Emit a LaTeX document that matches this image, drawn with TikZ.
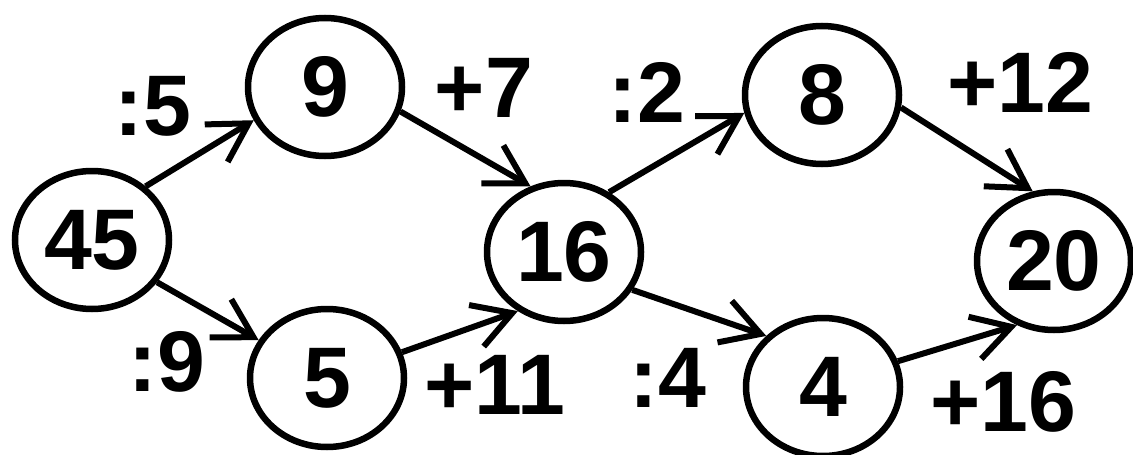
\documentclass[tikz,border=0pt]{standalone}
\usepackage{fontspec}
\setmainfont{Liberation Sans}
\usetikzlibrary{shapes.geometric,arrows.meta}
\begin{document}
\begin{tikzpicture}[x=1pt,y=-1pt,
  num/.style={ellipse,draw,line width=6.5pt,minimum width=154pt,minimum height=138pt,inner sep=0pt,
    font=\fontsize{86}{90}\selectfont\bfseries},
  lab/.style={inner sep=0pt,anchor=center,font=\fontsize{86}{90}\selectfont\bfseries},
  arr/.style={line width=6pt,-{Straight Barb[length=38pt,width=44pt,line width=6pt]}}]
\useasboundingbox (0,0) rectangle (1133,455);
\node[num] (n45) at (92,240) {45};
\node[num] (n9) at (325,87) {9};
\node[num] (n5) at (327,378) {5};
\node[num] (n16) at (564,252) {16};
\node[num] (n8) at (822,95) {8};
\node[num] (n4) at (823,387) {4};
\node[num] (n20) at (1054,261) {20};
\node[lab] (l1) at (153,106) {:5};
\node[lab] (l2) at (167,362) {:9};
\node[lab] (l3) at (484,88) {+7};
\node[lab] (l4) at (647,92) {:2};
\node[lab] (l5) at (495,385) {+11};
\node[lab] (l6) at (668,378) {:4};
\node[lab] (l7) at (1020,82) {+12};
\node[lab] (l8) at (1003,402) {+16};
\draw[arr] (n45.45) -- (n9.205);
\draw[arr] (n45.-33) -- (n5.151);
\draw[arr] (n9.-18) -- (n16.117);
\draw[arr] (n5.19) -- (n16.232);
\draw[arr] (n16.53) -- (n8.193);
\draw[arr] (n16.-29) -- (n4.138);
\draw[arr] (n8.-9) -- (n20.107);
\draw[arr] (n4.19) -- (n20.240);
\end{tikzpicture}
\end{document}
